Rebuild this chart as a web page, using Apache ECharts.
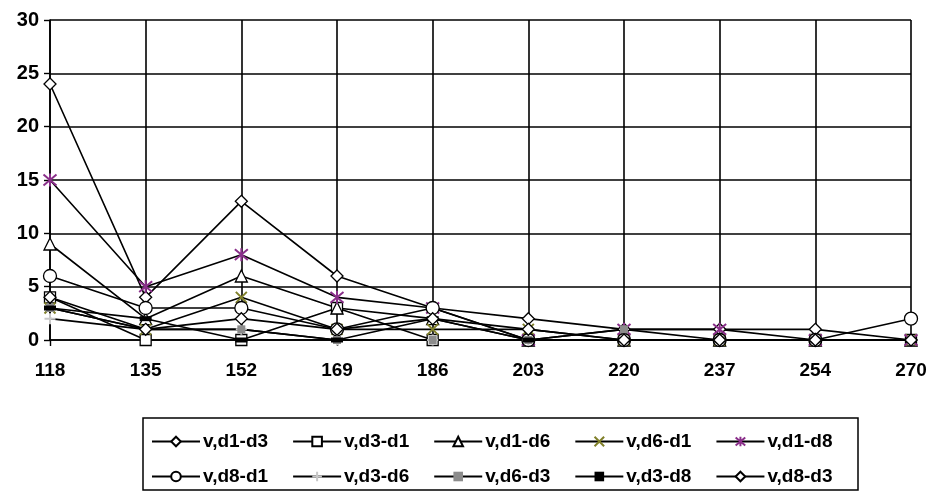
<!DOCTYPE html>
<html>
<head>
<meta charset="utf-8">
<script src="https://cdn.jsdelivr.net/npm/echarts@6/dist/echarts.min.js"></script>
<style>
html,body{margin:0;padding:0;background:#fff;}
#chart{width:936px;height:499px;}
</style>
</head>
<body>
<div id="chart"></div>
<script>
// Categories along the horizontal axis
const categories = ['118', '135', '152', '169', '186', '203', '220', '237', '254', '270'];

// Series values
const vD1D3 = [24, 4, 13, 6, 3, 2, 1, 1, 1, 0];
const vD3D1 = [4, 0, 0, 3, 0, 0, 0, 0, 0, 0];
const vD1D6 = [9, 2, 6, 3, 2, 0, 0, 0, 0, 0];
const vD6D1 = [3, 1, 4, 1, 1, 1, 0, 0, 0, 0];
const vD1D8 = [15, 5, 8, 4, 3, 0, 1, 1, 0, 0];
const vD8D1 = [6, 3, 3, 1, 3, 0, 0, 0, 0, 2];
const vD3D6 = [2, 1, 1, 0, 0, 0, 0, 0, 0, 0];
const vD6D3 = [3, 1, 1, 0, 0, 0, 1, 0, 0, 0];
const vD3D8 = [3, 2, 0, 0, 2, 0, 0, 0, 0, 0];
const vD8D3 = [4, 1, 2, 1, 2, 1, 0, 0, 0, 0];

const seriesNames = ['v,d1-d3', 'v,d3-d1', 'v,d1-d6', 'v,d6-d1', 'v,d1-d8',
                     'v,d8-d1', 'v,d3-d6', 'v,d6-d3', 'v,d3-d8', 'v,d8-d3'];
const seriesValues = [vD1D3, vD3D1, vD1D6, vD6D1, vD1D8, vD8D1, vD3D6, vD6D3, vD3D8, vD8D3];

// Marker definitions per series
const xPath = 'path://M0,0L10,10M10,0L0,10';
const starPath = 'path://M0,0L10,10M10,0L0,10M5,-1L5,11';
const plusPath = 'path://M5,0L5,10M0,5L10,5';
const markers = [
  { symbol: 'diamond', size: 12, fill: '#fff', stroke: '#000', bw: 1.3 },
  { symbol: 'rect', size: 11, fill: '#fff', stroke: '#000', bw: 1.3 },
  { symbol: 'triangle', size: 12, fill: '#fff', stroke: '#000', bw: 1.3 },
  { symbol: xPath, size: 11, fill: 'rgba(0,0,0,0)', stroke: '#80802a', bw: 2 },
  { symbol: starPath, size: 13, fill: 'rgba(0,0,0,0)', stroke: '#8a2f8a', bw: 2 },
  { symbol: 'circle', size: 13, fill: '#fff', stroke: '#000', bw: 1.3 },
  { symbol: plusPath, size: 11, fill: 'rgba(0,0,0,0)', stroke: '#c8c8c8', bw: 2 },
  { symbol: 'rect', size: 8, fill: '#8c8c8c', stroke: '#8c8c8c', bw: 0 },
  { symbol: 'rect', size: [12, 5], fill: '#000', stroke: '#000', bw: 0 },
  { symbol: 'diamond', size: 12, fill: '#fff', stroke: '#000', bw: 1.3 }
];

const series = seriesNames.map((name, i) => ({
  name: name,
  type: 'line',
  data: seriesValues[i],
  symbol: markers[i].symbol,
  symbolSize: markers[i].size,
  showAllSymbol: true,
  lineStyle: { color: '#000', width: 1.6 },
  itemStyle: {
    color: markers[i].fill,
    borderColor: markers[i].stroke,
    borderWidth: markers[i].bw
  },
  emphasis: { disabled: true },
  animation: false
}));

const labelFont = { fontFamily: '"Liberation Sans", Arial, sans-serif', fontWeight: 'bold', fontSize: 19, color: '#000' };
const yFont = { fontFamily: '"Liberation Sans", Arial, sans-serif', fontWeight: 'bold', fontSize: 20, color: '#000' };

const legendBase = {
  orient: 'horizontal',
  itemWidth: 48,
  itemHeight: 12,
  itemGap: 24,
  textStyle: Object.assign({}, labelFont, { padding: [0, 0, 0, -2] }),
  selectedMode: false,
  left: 146
};

const chart = echarts.init(document.getElementById('chart'), null, { renderer: 'canvas' });
chart.setOption({
  backgroundColor: '#fff',
  animation: false,
  grid: { left: 50, right: 25, top: 20, bottom: 159 },
  xAxis: {
    type: 'category',
    data: categories,
    boundaryGap: false,
    axisLine: { lineStyle: { color: '#000', width: 1.6 } },
    axisTick: { show: true, length: 6, lineStyle: { color: '#000', width: 1.4 } },
    splitLine: { show: true, lineStyle: { color: '#000', width: 1.6 } },
    axisLabel: Object.assign({ margin: 21 }, labelFont)
  },
  yAxis: {
    type: 'value',
    min: 0,
    max: 30,
    interval: 5,
    axisLine: { show: true, lineStyle: { color: '#000', width: 1.6 } },
    axisTick: { show: true, length: 6, lineStyle: { color: '#000', width: 1.4 } },
    splitLine: { show: true, lineStyle: { color: '#000', width: 1.6 } },
    axisLabel: Object.assign({ margin: 11 }, yFont)
  },
  legend: [
    Object.assign({}, legendBase, { top: 427, data: seriesNames.slice(0, 5) }),
    Object.assign({}, legendBase, { top: 462, data: seriesNames.slice(5) })
  ],
  graphic: [{
    type: 'rect',
    shape: { x: 143, y: 418, width: 715, height: 72 },
    style: { fill: 'none', stroke: '#000', lineWidth: 1.5 },
    silent: true
  }],
  series: series
});
</script>
</body>
</html>
